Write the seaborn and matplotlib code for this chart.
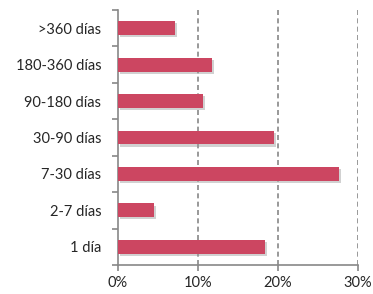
import matplotlib
matplotlib.use("Agg")
import matplotlib.pyplot as plt
import matplotlib.patheffects as pe
import seaborn as sns
import pandas as pd
import numpy as np

categories = [">360 días", "180-360 días", "90-180 días", "30-90 días", "7-30 días", "2-7 días", "1 día"]
values = [7.1, 11.8, 10.6, 19.5, 27.6, 4.5, 18.4]
xticks = [0, 10, 20, 30]
xticklabels = ["0%", "10%", "20%", "30%"]

sns.set_style("white")
plt.rcParams['font.family'] = ['Lato', 'DejaVu Sans']

df = pd.DataFrame({"cat": categories, "val": values})

fig = plt.figure(figsize=(3.73, 2.94), dpi=100)
ax = fig.add_axes([118/373, 29/294, 240/373, 255/294])

sns.barplot(data=df, x="val", y="cat", orient="h", color="#CC4661",
            saturation=1, width=0.38, ax=ax, zorder=3, linewidth=0)
for p in ax.patches:
    p.set_path_effects([pe.SimplePatchShadow(offset=(1.5, -1.5), shadow_rgbFace="#999999", alpha=0.45), pe.Normal()])

ax.set_xlim(0, 30)
ax.set_ylim(len(categories) - 0.5, -0.5)
ax.set_xticks(xticks)
ax.set_xticklabels(xticklabels, fontsize=10.5)
ax.set_xlabel("")
ax.set_ylabel("")
ax.tick_params(axis="y", which="major", length=0, labelsize=10.5, pad=12)
ax.set_yticks(np.arange(-0.5, len(categories) + 0.5, 1), minor=True)
ax.tick_params(axis="y", which="minor", left=True, length=4, color="#888888", width=1.2, direction="out")
ax.tick_params(axis="x", which="major", bottom=True, length=4, color="#888888", width=1.2, direction="out", pad=4)

for x in xticks[1:]:
    ax.axvline(x, color="#888888", linestyle=(0, (3, 2)), linewidth=1.2, zorder=1)

for s in ["top", "right"]:
    ax.spines[s].set_visible(False)
for s in ["left", "bottom"]:
    ax.spines[s].set_color("#888888")
    ax.spines[s].set_linewidth(1.2)

fig.savefig("out.png", dpi=100)
